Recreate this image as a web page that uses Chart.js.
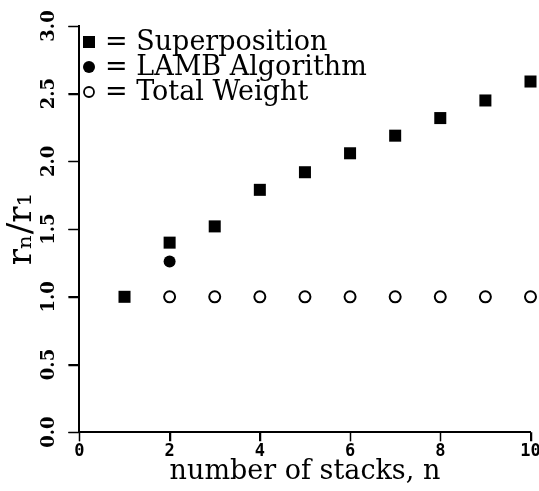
<!DOCTYPE html>
<html lang="en">
<head>
    <meta charset="UTF-8">
    <title>rn/r1 vs number of stacks</title>
    <script src="https://cdn.jsdelivr.net/npm/chart.js@4.4.0/dist/chart.umd.min.js"></script>
    <style>
        html, body { margin: 0; padding: 0; background: #fff; }
        #board { width: 539px; height: 491px; }
    </style>
</head>
<body>
    <div id="board">
        <canvas id="chart1" width="539" height="491"></canvas>
    </div>
<script>
    // values
    const stacks = [1, 2, 3, 4, 5, 6, 7, 8, 9, 10];
    const superposition = [1.00, 1.40, 1.52, 1.79, 1.92, 2.06, 2.19, 2.32, 2.45, 2.59];
    const lambStacks = [2];
    const lamb = [1.26];
    const weightStacks = [2, 3, 4, 5, 6, 7, 8, 9, 10];
    const totalWeight = [1.0, 1.0, 1.0, 1.0, 1.0, 1.0, 1.0, 1.0, 1.0];
    const xTicks = [0, 2, 4, 6, 8, 10];
    const yTicks = [0.0, 0.5, 1.0, 1.5, 2.0, 2.5, 3.0];
    const legendNames = ['= Superposition', '= LAMB Algorithm', '= Total Weight'];

    const serif = '"DejaVu Serif", "Liberation Serif", serif';

    function pts(xs, ys) {
        return xs.map((x, i) => ({ x: x, y: ys[i] }));
    }

    // tick marks outside the axes (the built-in ones did not show up)
    const tickMarks = {
        id: 'tickMarks',
        afterDraw(chart) {
            const ctx = chart.ctx;
            const xs = chart.scales.x, ys = chart.scales.y;
            ctx.save();
            ctx.strokeStyle = '#000';
            ctx.lineWidth = 1.5;
            ctx.beginPath();
            xTicks.forEach(v => {
                const px = Math.round(xs.getPixelForValue(v)) + 0.5;
                ctx.moveTo(px, xs.top);
                ctx.lineTo(px, xs.top + 9);
            });
            yTicks.forEach(v => {
                const py = Math.round(ys.getPixelForValue(v)) + 0.5;
                ctx.moveTo(ys.right, py);
                ctx.lineTo(ys.right - 11, py);
            });
            ctx.stroke();
            ctx.restore();
        }
    };

    // legend drawn inside the plot, top left
    const insideLegend = {
        id: 'insideLegend',
        afterDraw(chart) {
            const ctx = chart.ctx;
            const a = chart.chartArea;
            ctx.save();
            ctx.font = '27px ' + serif;
            ctx.fillStyle = '#000';
            ctx.strokeStyle = '#000';
            ctx.textBaseline = 'middle';
            legendNames.forEach((name, i) => {
                const cx = 89;
                const cy = a.top + 16 + i * 25;
                if (i === 0) {
                    ctx.fillRect(cx - 6, cy - 6, 12, 12);
                } else {
                    ctx.beginPath();
                    ctx.arc(cx, cy, i === 1 ? 6 : 5, 0, Math.PI * 2);
                    if (i === 1) ctx.fill();
                    else { ctx.lineWidth = 1.8; ctx.stroke(); }
                }
                ctx.fillText(name, cx + 16, cy + 1);
            });
            ctx.restore();
        }
    };

    const ctx = document.getElementById('chart1').getContext('2d');
    new Chart(ctx, {
        type: 'scatter',
        data: {
            datasets: [
                {
                    label: 'Superposition',
                    data: pts(stacks, superposition),
                    pointStyle: 'rect',
                    pointRadius: 8.5,
                    backgroundColor: '#000',
                    borderColor: '#000',
                    borderWidth: 0
                },
                {
                    label: 'LAMB Algorithm',
                    data: pts(lambStacks, lamb),
                    pointStyle: 'circle',
                    pointRadius: 6,
                    backgroundColor: '#000',
                    borderColor: '#000',
                    borderWidth: 0
                },
                {
                    label: 'Total Weight',
                    data: pts(weightStacks, totalWeight),
                    pointStyle: 'circle',
                    pointRadius: 5.5,
                    backgroundColor: '#fff',
                    borderColor: '#000',
                    borderWidth: 2
                }
            ]
        },
        options: {
            responsive: false,
            animation: false,
            clip: false,
            layout: { padding: { top: 26, right: 0, left: 0, bottom: 3 } },
            plugins: {
                legend: { display: false },
                tooltip: { enabled: false }
            },
            scales: {
                x: {
                    type: 'linear',
                    min: 0,
                    max: 10,
                    afterBuildTicks(axis) { axis.ticks = xTicks.map(v => ({ value: v })); },
                    // let the "10" run off the right edge, as in the scan
                    afterFit(axis) { axis.paddingRight = 7; },
                    grid: { drawOnChartArea: false, color: '#000', tickLength: 9 },
                    border: { display: true, color: '#000', width: 2 },
                    ticks: {
                        color: '#000',
                        font: { family: '"DejaVu Sans Mono", monospace', size: 17, weight: 'bold' },
                        padding: 0,
                        maxRotation: 0
                    },
                    title: {
                        display: true,
                        text: 'number of stacks, n',
                        color: '#000',
                        font: { family: serif, size: 27 },
                        padding: { top: -6, bottom: 0 }
                    }
                },
                y: {
                    type: 'linear',
                    min: 0,
                    max: 3,
                    afterBuildTicks(axis) { axis.ticks = yTicks.map(v => ({ value: v })); },
                    grid: { drawOnChartArea: false, color: '#000', tickLength: 11 },
                    border: { display: true, color: '#000', width: 2 },
                    ticks: {
                        color: '#000',
                        font: { family: serif, size: 18, weight: 'bold' },
                        padding: 3,
                        crossAlign: 'center',
                        minRotation: 90,
                        maxRotation: 90,
                        callback: v => Number(v).toFixed(1)
                    },
                    title: {
                        display: true,
                        text: 'rₙ/r₁',
                        color: '#000',
                        font: { family: serif, size: 34 },
                        padding: { top: 2, bottom: -2 }
                    }
                }
            }
        },
        plugins: [tickMarks, insideLegend]
    });
</script>
</body>
</html>
